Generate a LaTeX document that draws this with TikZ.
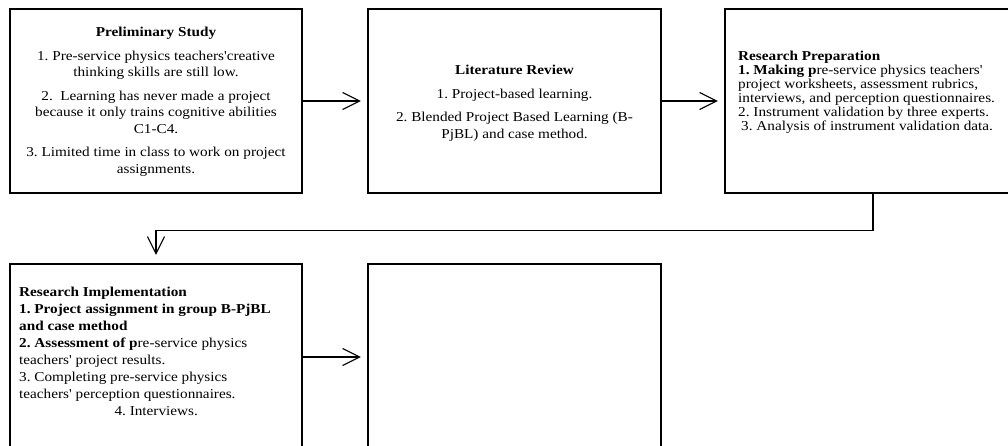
\documentclass[tikz,border=0pt]{standalone}
\usepackage{fontspec}
\setmainfont{Liberation Serif}[FakeStretch=1.12,Ligatures=TeXOff]
\usetikzlibrary{arrows.meta}
\begin{document}
\frenchspacing
\begin{tikzpicture}[x=1pt,y=-1pt,
  box/.style={draw, line width=2.4pt, inner sep=0pt},
  txt/.style={inner sep=0pt, font=\fontsize{13.6}{16.5}\selectfont},
  conn/.style={line width=1.1pt, -{Straight Barb[length=17pt,width=17pt,line width=1.1pt]}, shorten >=6pt}]
\useasboundingbox (0,0) rectangle (1008,445);
\clip (0,0) rectangle (1008,445);
% boxes
\node[box, minimum width=292pt, minimum height=184pt] (b1) at (156,101) {};
\node[box, minimum width=293pt, minimum height=184pt] (b2) at (514.5,101) {};
\node[box, minimum width=296pt, minimum height=184pt] (b3) at (873,101) {};
\node[box, minimum width=292pt, minimum height=186pt] (b4) at (156,357) {};
\node[box, minimum width=293pt, minimum height=186pt] (b5) at (514.5,357) {};
% texts
\node[txt, align=center, anchor=north] (t1) at (156,27) {%
\textbf{Preliminary Study}\\[7pt]
1. Pre-service physics teachers'creative\\
thinking skills are still low.\\[7pt]
2.\ \ Learning has never made a project\\
because it only trains cognitive abilities\\
C1-C4.\\[7pt]
3. Limited time in class to work on project\\
assignments.};
\node[txt, align=center, anchor=north] (t2) at (514.5,65) {%
\textbf{Literature Review}\\[7pt]
1. Project-based learning.\\[7pt]
2. Blended Project Based Learning (B-\\
PjBL) and case method.};
\node[txt, align=left, anchor=north west, font=\fontsize{13.6}{14}\selectfont] (t3) at (738,51) {%
\textbf{Research Preparation}\\
\textbf{1. Making p}re-service physics teachers'\\
project worksheets, assessment rubrics,\\
interviews, and perception questionnaires.\\
2. Instrument validation by three experts.\\
\hspace{3pt}3. Analysis of instrument validation data.};
\node[txt, align=left, anchor=north west, font=\fontsize{13.6}{17}\selectfont] (t4) at (19,287) {%
\textbf{Research Implementation}\\
\textbf{1. Project assignment in group B-PjBL}\\
\textbf{and case method}\\
\textbf{2. Assessment of p}re-service physics\\
teachers' project results.\\
3. Completing pre-service physics\\
teachers' perception questionnaires.\\
\makebox[274pt][c]{4. Interviews.}};
% connectors
\draw[conn] (b1.east) -- (b2.west);
\draw[conn] (b2.east) -- (b3.west);
\draw[conn, shorten >=8pt] (b3.south) -- ++(0,36) -| (b4.north);
\draw[conn] (b4.east) -- (b5.west);
\end{tikzpicture}
\end{document}
